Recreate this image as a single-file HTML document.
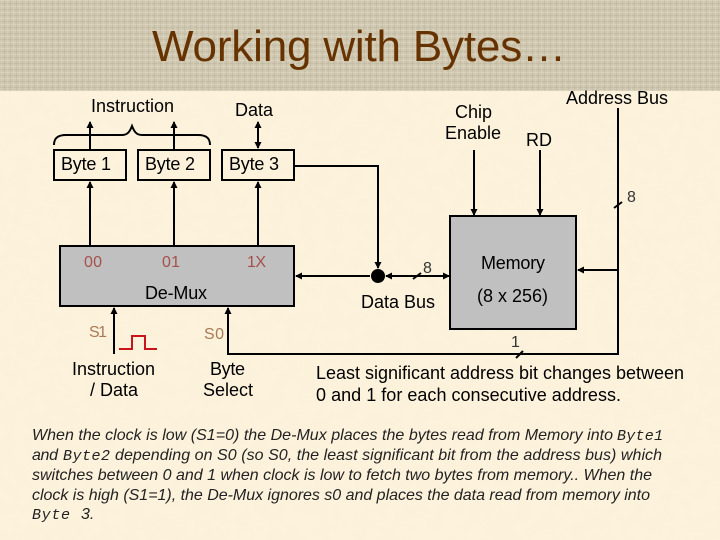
<!DOCTYPE html>
<html>
<head>
<meta charset="utf-8">
<style>
html,body{margin:0;padding:0;background:#fdf3dd;}
svg{display:block;}
text{font-family:"Liberation Sans",Arial,sans-serif;font-size:18px;fill:#000;}
.i{font-style:italic;font-size:16px;fill:#222;}
.m{font-family:"Liberation Mono",monospace;font-size:15px;font-style:italic;fill:#222;}
.r{fill:#a5504a;font-size:16px;}
.b{fill:#a87a55;font-size:16px;}
.t{fill:#333;font-size:16px;}
</style>
</head>
<body>
<svg width="720" height="540" viewBox="0 0 720 540" xmlns="http://www.w3.org/2000/svg">
<defs>
<pattern id="w" width="6" height="6" patternUnits="userSpaceOnUse">
<rect width="6" height="6" fill="#cfc7b0"/>
<rect x="0" y="0" width="6" height="1" fill="#dad3bf"/>
<rect x="0" y="3" width="6" height="1" fill="#c4bca4"/>
<rect x="1" y="0" width="1" height="6" fill="#d9d2bd" opacity=".6"/>
<rect x="4" y="0" width="1" height="6" fill="#c0b79f" opacity=".5"/>
</pattern>
<filter id="n" x="0" y="0" width="100%" height="100%">
<feTurbulence type="fractalNoise" baseFrequency="0.07" numOctaves="2" seed="4"/>
<feColorMatrix values="0 0 0 0 0.93  0 0 0 0 0.84  0 0 0 0 0.66  0 0 0 1.1 -0.42"/>
</filter>
<marker id="a" markerWidth="8" markerHeight="8" refX="6" refY="3.5" orient="auto-start-reverse" markerUnits="userSpaceOnUse">
<path d="M0 0L7 3.5L0 7Z" fill="#000"/>
</marker>
</defs>

<rect width="720" height="540" fill="#fdf3dd"/>
<rect width="720" height="540" filter="url(#n)" opacity=".5"/>
<rect width="720" height="91" fill="url(#w)"/>

<text x="152" y="61" style="font-size:44px;fill:#663300" textLength="414" lengthAdjust="spacing">Working with Bytes…</text>

<g fill="none" stroke="#000" stroke-width="2">
<rect x="54" y="150" width="72" height="30"/>
<rect x="138" y="150" width="72" height="30"/>
<rect x="222" y="150" width="72" height="30"/>
<path d="M54 145C54 138 58 135 66 135H122C128 135 130 131 132 126C134 131 136 135 142 135H198C206 135 210 138 210 145"/>
<line x1="90" y1="150" x2="90" y2="122" marker-end="url(#a)"/>
<line x1="174" y1="150" x2="174" y2="122" marker-end="url(#a)"/>
<line x1="258" y1="148" x2="258" y2="122" marker-start="url(#a)" marker-end="url(#a)"/>
<line x1="90" y1="246" x2="90" y2="182" marker-end="url(#a)"/>
<line x1="174" y1="246" x2="174" y2="182" marker-end="url(#a)"/>
<line x1="258" y1="246" x2="258" y2="182" marker-end="url(#a)"/>
<rect x="60" y="246" width="234" height="60" fill="#c0c0c0"/>
<rect x="450" y="216" width="126" height="113" fill="#c0c0c0"/>
<path d="M294 166H378V268" marker-end="url(#a)"/>
<line x1="370" y1="276" x2="296" y2="276" marker-end="url(#a)"/>
<line x1="386" y1="276" x2="449" y2="276" marker-start="url(#a)" marker-end="url(#a)"/>
<line x1="474" y1="150" x2="474" y2="215" marker-end="url(#a)"/>
<line x1="540" y1="150" x2="540" y2="215" marker-end="url(#a)"/>
<path d="M618 108V354H228V308" marker-end="url(#a)"/>
<line x1="618" y1="270" x2="578" y2="270" marker-end="url(#a)"/>
<line x1="114" y1="354" x2="114" y2="308" marker-end="url(#a)"/>
<line x1="614" y1="208" x2="622" y2="202"/>
<line x1="413" y1="279" x2="421" y2="273"/>
<line x1="516" y1="358" x2="523" y2="351"/>
</g>
<circle cx="378" cy="276" r="7" fill="#000"/>
<path d="M119 349H132V336H145V349H157" fill="none" stroke="#c8141a" stroke-width="2"/>

<text x="91" y="112" textLength="83" lengthAdjust="spacing">Instruction</text>
<text x="235" y="116" textLength="38" lengthAdjust="spacing">Data</text>
<text x="455" y="118" textLength="37" lengthAdjust="spacing">Chip</text>
<text x="445" y="139" textLength="56" lengthAdjust="spacing">Enable</text>
<text x="526" y="146" textLength="26" lengthAdjust="spacing">RD</text>
<text x="566" y="104" textLength="102" lengthAdjust="spacing">Address Bus</text>
<text x="61" y="170" textLength="50" lengthAdjust="spacing">Byte 1</text>
<text x="145" y="170" textLength="50" lengthAdjust="spacing">Byte 2</text>
<text x="229" y="170" textLength="50" lengthAdjust="spacing">Byte 3</text>
<text class="r" x="84" y="267" textLength="18" lengthAdjust="spacing">00</text>
<text class="r" x="162" y="267" textLength="18" lengthAdjust="spacing">01</text>
<text class="r" x="247" y="267" textLength="19" lengthAdjust="spacing">1X</text>
<text x="145" y="299" textLength="62" lengthAdjust="spacing">De-Mux</text>
<text class="b" x="89" y="337" textLength="18" lengthAdjust="spacing">S1</text>
<text class="b" x="204" y="339" textLength="20" lengthAdjust="spacing">S0</text>
<text x="72" y="375" textLength="83" lengthAdjust="spacing">Instruction</text>
<text x="90" y="396" textLength="48" lengthAdjust="spacing">/ Data</text>
<text x="210" y="375" textLength="35" lengthAdjust="spacing">Byte</text>
<text x="203" y="396" textLength="50" lengthAdjust="spacing">Select</text>
<text x="361" y="308" textLength="74" lengthAdjust="spacing">Data Bus</text>
<text x="481" y="269" textLength="64" lengthAdjust="spacing">Memory</text>
<text x="477" y="302" textLength="71" lengthAdjust="spacing">(8 x 256)</text>
<text class="t" x="423" y="273">8</text>
<text class="t" x="627" y="202">8</text>
<text class="t" x="511" y="347">1</text>
<text x="316" y="379" textLength="368" lengthAdjust="spacing">Least significant address bit changes between</text>
<text x="316" y="401" textLength="305" lengthAdjust="spacing">0 and 1 for each consecutive address.</text>

<text class="i" x="32" y="440" textLength="581" lengthAdjust="spacing">When the clock is low (S1=0) the De-Mux places the bytes read from Memory into</text>
<text class="m" x="617" y="440" textLength="46" lengthAdjust="spacing">Byte1</text>
<text class="i" x="32" y="460" textLength="26" lengthAdjust="spacing">and</text>
<text class="m" x="63" y="460" textLength="47" lengthAdjust="spacing">Byte2</text>
<text class="i" x="115" y="460" textLength="547" lengthAdjust="spacing">depending on S0 (so S0, the least significant bit from the address bus)  which</text>
<text class="i" x="32" y="480" textLength="620" lengthAdjust="spacing">switches between 0 and 1 when clock is low to fetch two bytes from memory.. When the</text>
<text class="i" x="32" y="500" textLength="618" lengthAdjust="spacing">clock is high (S1=1), the De-Mux ignores s0 and places the data read from memory into</text>
<text class="m" x="32" y="519" textLength="38" lengthAdjust="spacing">Byte</text>
<text class="i" x="81" y="519">3.</text>
</svg>
</body>
</html>
